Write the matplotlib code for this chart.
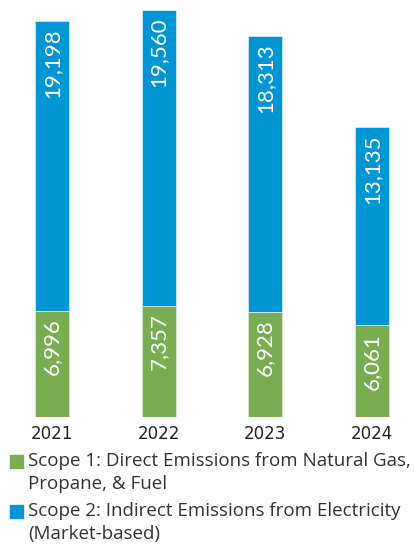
import matplotlib

matplotlib.use('agg')
import matplotlib.pyplot as plt
from matplotlib.patches import Rectangle

years = ['2021', '2022', '2023', '2024']
scope1 = [6996, 7357, 6928, 6061]
scope2 = [19198, 19560, 18313, 13135]
legend_labels = ['Scope 1: Direct Emissions from Natural Gas,\nPropane, & Fuel',
                 'Scope 2: Indirect Emissions from Electricity\n(Market-based)']

GREEN = '#7AAD52'
BLUE = '#0096D6'
TEXT = '#333333'

plt.rcParams['font.family'] = ['Lato', 'DejaVu Sans']

fig = plt.figure(figsize=(4.16, 5.48), dpi=100)
ax = fig.add_axes([0, 131 / 548, 1, 417 / 548])

x = list(range(len(years)))
width = 0.32
ax.bar(x, scope1, width, color=GREEN, edgecolor='#d8e8cc', linewidth=0.6)
ax.bar(x, scope2, width, bottom=scope1, color=BLUE, edgecolor='#cde9f6', linewidth=0.6)

# labels hang from the top of each segment
pad = 480
for i in x:
    ax.text(i, scope1[i] - pad, '{:,}'.format(scope1[i]), rotation=90,
            ha='center', va='top', color='white', fontsize=16)
    top = scope1[i] + scope2[i]
    ax.text(i, top - pad, '{:,}'.format(scope2[i]), rotation=90,
            ha='center', va='top', color='white', fontsize=16)

ax.set_xlim(-0.4875, 3.4125)
ax.set_ylim(0, 27600)
ax.set_xticks(x)
ax.set_xticklabels(years, fontsize=12, color='#222222', family='DejaVu Sans')
ax.tick_params(axis='x', length=0, pad=6)
ax.set_yticks([])
for s in ax.spines.values():
    s.set_visible(False)

# legend drawn by hand so the square sits on the first line
rows = [(455, GREEN), (505, BLUE)]
for (ytop, col), label in zip(rows, legend_labels):
    fig.patches.append(Rectangle((10 / 416, 1 - (ytop + 13) / 548), 13 / 416, 13 / 548,
                                 transform=fig.transFigure, color=col))
    fig.text(28 / 416, 1 - (ytop - 3) / 548, label, ha='left', va='top',
             fontsize=13.5, color=TEXT, linespacing=1.33, family='Open Sans')

fig.savefig('out.png', dpi=100)
